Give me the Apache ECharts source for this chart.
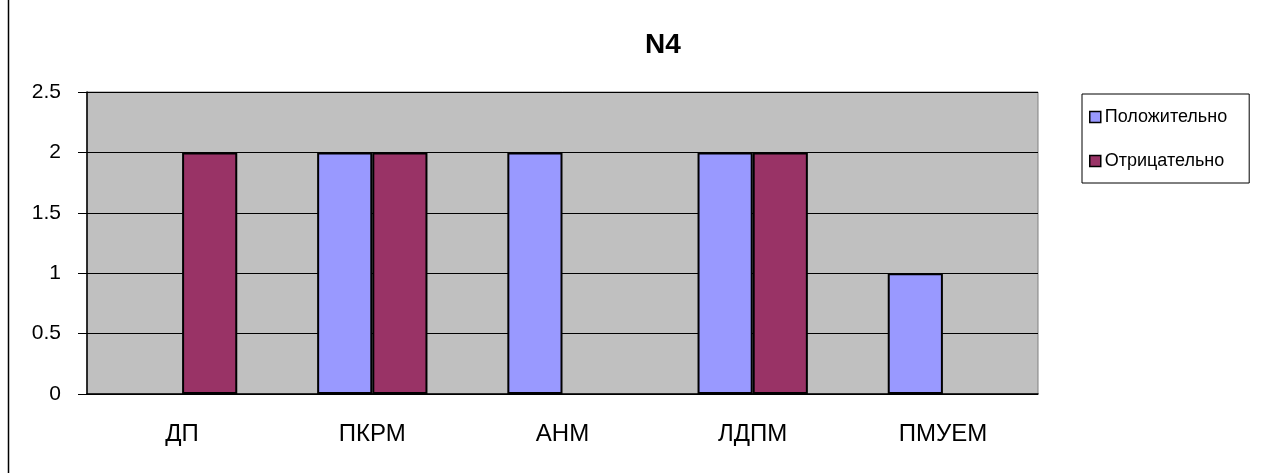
<!DOCTYPE html>
<html><head><meta charset="utf-8">
<script src="https://cdn.jsdelivr.net/npm/echarts@6/dist/echarts.min.js"></script>
<style>html,body{margin:0;padding:0;background:#fff}#c{width:1287px;height:473px}</style>
</head><body><div id="c"></div>
<script>
const categories = ['ДП', 'ПКРМ', 'АНМ', 'ЛДПМ', 'ПМУЕМ'];
const positive = [0, 2, 2, 2, 1];
const negative = [2, 2, 0, 2, 0];
const seriesNames = ['Положительно', 'Отрицательно'];
const titleText = 'N4';

const hideZero = arr => arr.map(v => (v === 0 ? '-' : v));
const chart = echarts.init(document.getElementById('c'));
const font = '"Liberation Sans", Arial, sans-serif';
chart.setOption({
  animation: false,
  backgroundColor: '#fff',
  title: { text: titleText, left: 658, top: 26, textAlign: 'center',
    textStyle: { fontFamily: font, fontSize: 28, fontWeight: 'bold', color: '#000' } },
  legend: {
    orient: 'vertical', left: 1082, top: 94,
    backgroundColor: '#fff', borderColor: '#000', borderWidth: 1,
    padding: [14, 22, 13, 7], itemGap: 26, itemWidth: 11, itemHeight: 11,
    icon: 'rect',
    itemStyle: { borderColor: '#000', borderWidth: 1.5 },
    textStyle: { fontFamily: font, fontSize: 18, color: '#000', lineHeight: 18, padding: [0,0,0,-1] },
    data: seriesNames
  },
  grid: { left: 87, right: 249, top: 92, bottom: 79, show: true,
    backgroundColor: '#C0C0C0', borderColor: '#808080', borderWidth: 1 },
  xAxis: {
    type: 'category', data: categories,
    axisLine: { lineStyle: { color: '#000', width: 1.5 } },
    axisTick: { inside: true, length: 7, lineStyle: { color: '#000' } },
    axisLabel: { fontFamily: font, fontSize: 24, color: '#000', margin: 28 }
  },
  yAxis: {
    type: 'value', min: 0, max: 2.5, interval: 0.5,
    axisLine: { show: true, lineStyle: { color: '#000', width: 1.5 } },
    axisTick: { show: true, length: 9, lineStyle: { color: '#000' } },
    axisLabel: { fontFamily: font, fontSize: 21, color: '#000', margin: 26 },
    splitLine: { show: true, lineStyle: { color: '#000', width: 1.2 } }
  },
  series: [
    { name: seriesNames[0], type: 'bar', data: hideZero(positive), barGap: '0%', barCategoryGap: '42%',
      itemStyle: { color: '#9999FF', borderColor: '#000', borderWidth: 2 } },
    { name: seriesNames[1], type: 'bar', data: hideZero(negative),
      itemStyle: { color: '#993366', borderColor: '#000', borderWidth: 2 } }
  ],
  graphic: [
    { type: 'line', shape: { x1: 8.5, y1: 0, x2: 8.5, y2: 473 }, style: { stroke: '#000', lineWidth: 1.5 } }
  ]
});
</script></body></html>
